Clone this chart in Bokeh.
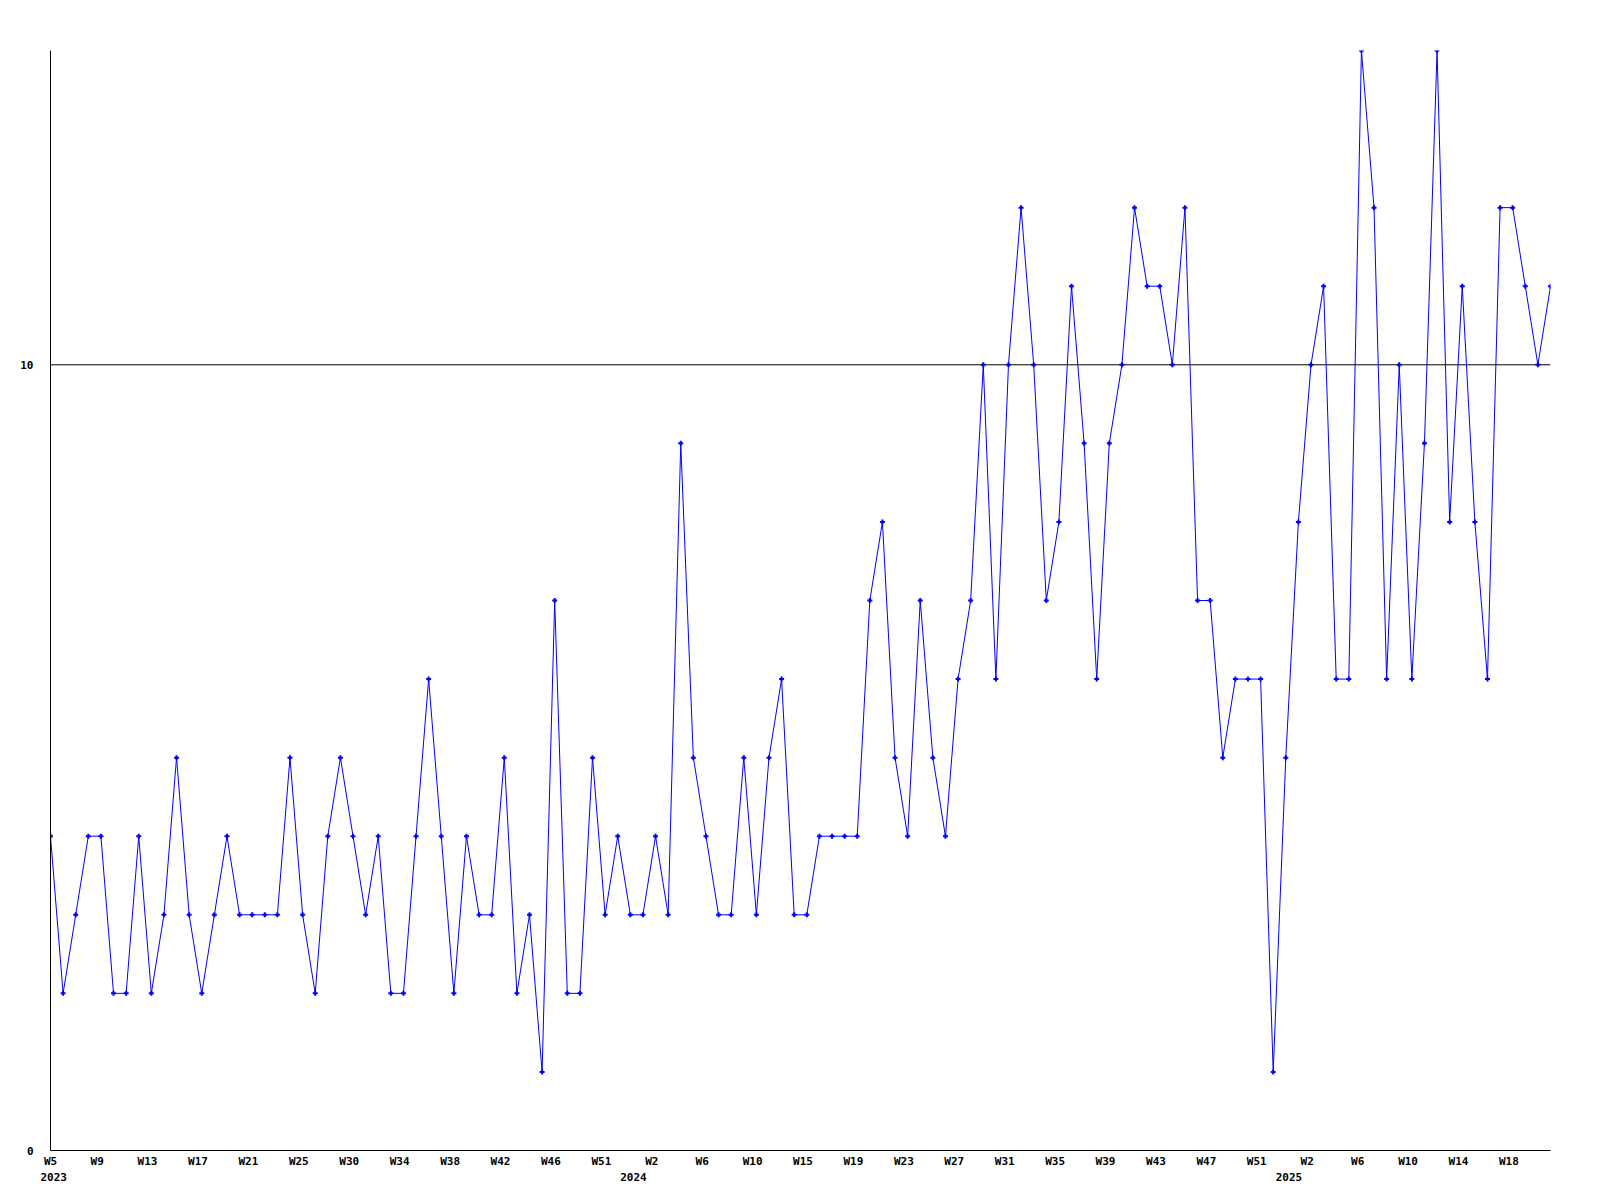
from bokeh.plotting import figure
from bokeh.models import Range1d, FixedTicker, Span, LinearAxis, ColumnDataSource
from bokeh.embed import file_html
from bokeh.resources import INLINE

# weekly counts, 2023 W5 onwards
values = [4, 2, 3, 4, 4, 2, 2, 4, 2, 3, 5, 3, 2, 3, 4, 3, 3, 3, 3, 5,
          3, 2, 4, 5, 4, 3, 4, 2, 2, 4, 6, 4, 2, 4, 3, 3, 5, 2, 3, 1,
          7, 2, 2, 5, 3, 4, 3, 3, 4, 3, 9, 5, 4, 3, 3, 5, 3, 5, 6, 3,
          3, 4, 4, 4, 4, 7, 8, 5, 4, 7, 5, 4, 6, 7, 10, 6, 10, 12, 10, 7,
          8, 11, 9, 6, 9, 10, 12, 11, 11, 10, 12, 7, 7, 5, 6, 6, 6, 1, 5, 8,
          10, 11, 6, 6, 14, 12, 6, 10, 6, 9, 14, 8, 11, 8, 6, 12, 12, 11, 10, 11]
x_idx = list(range(len(values)))

week_labels = ["W5", "W9", "W13", "W17", "W21", "W25", "W30", "W34", "W38", "W42",
               "W46", "W51", "W2", "W6", "W10", "W15", "W19", "W23", "W27", "W31",
               "W35", "W39", "W43", "W47", "W51", "W2", "W6", "W10", "W14", "W18"]
week_ticks = [0.0] + [round(4 * k - 0.3, 2) for k in range(1, len(week_labels))]

year_labels = ["2023", "2024", "2025"]
year_pos = [0.25, 46.25, 98.25]

y_ticks = [0, 10]
ref_level = 10

FONT = "DejaVu Sans Mono"

p = figure(width=1584, height=1184, output_backend="svg", toolbar_location=None,
           title=None, x_range=Range1d(0, len(values) - 1), y_range=Range1d(0, 14))
p.min_border_left = 50
p.min_border_right = 34
p.min_border_top = 50
p.min_border_bottom = 34
p.outline_line_color = None
p.grid.visible = False
p.background_fill_color = "white"
p.border_fill_color = "white"

src = ColumnDataSource(dict(x=x_idx, y=values))

p.add_layout(Span(location=ref_level, dimension="width", line_color="black",
                  line_width=1, level="underlay"))

p.line("x", "y", source=src, line_color="#0000ff", line_width=1)
p.scatter("x", "y", source=src, marker="cross", size=5, line_width=2,
          line_color="#0000ff")


def style_axis(ax, standoff):
    ax.major_tick_out = 0
    ax.major_tick_in = 0
    ax.minor_tick_out = 0
    ax.minor_tick_in = 0
    ax.major_label_standoff = standoff
    ax.major_label_text_font = FONT
    ax.major_label_text_font_style = "bold"
    ax.major_label_text_font_size = "11px"
    ax.major_label_text_color = "black"


xa = p.xaxis[0]
xa.ticker = FixedTicker(ticks=week_ticks)
xa.major_label_overrides = {t: l for t, l in zip(week_ticks, week_labels)}
xa.axis_line_color = "black"
xa.axis_line_width = 1
style_axis(xa, 4)

year_axis = LinearAxis(ticker=FixedTicker(ticks=year_pos),
                       major_label_overrides={t: l for t, l in zip(year_pos, year_labels)},
                       axis_line_color=None)
style_axis(year_axis, 2)
p.add_layout(year_axis, "below")

ya = p.yaxis[0]
ya.ticker = FixedTicker(ticks=y_ticks)
ya.axis_line_color = "black"
ya.axis_line_width = 1
style_axis(ya, 17)

open("out.html", "w").write(file_html(p, INLINE))
